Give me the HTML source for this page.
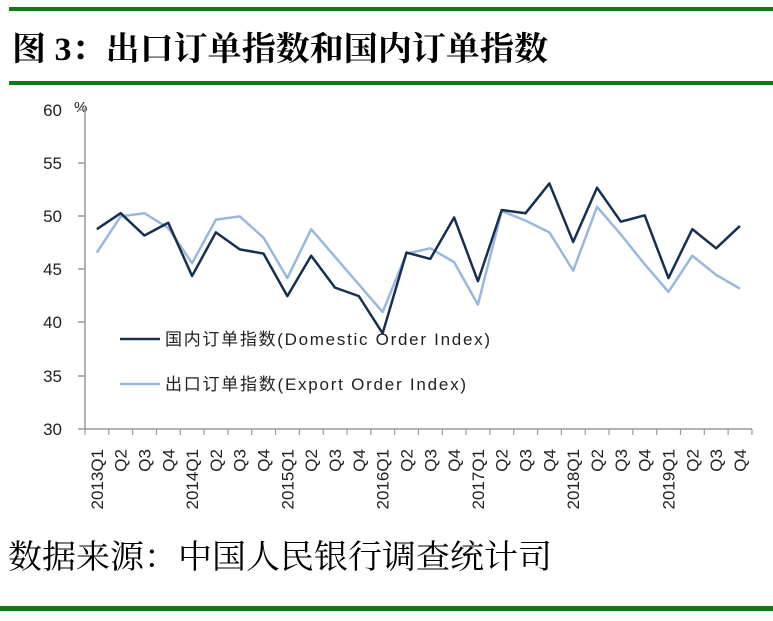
<!DOCTYPE html>
<html><head><meta charset="utf-8"><style>
body{margin:0;background:#fff;}
</style></head><body>
<svg width="773" height="621" xmlns="http://www.w3.org/2000/svg" style="display:block">
<rect width="773" height="621" fill="#fff"/>
<rect x="9" y="7" width="764" height="4" fill="#0c7a17"/>
<rect x="9" y="81" width="764" height="4" fill="#0c7a17"/>
<rect x="0" y="606" width="773" height="5" fill="#0c7a17"/>
<text x="12" y="60" font-family="'Liberation Serif','Noto Serif CJK SC',serif" font-size="33" font-weight="bold" fill="#000" textLength="536" lengthAdjust="spacingAndGlyphs">图 3：出口订单指数和国内订单指数</text>
<text x="8" y="568" font-family="'Liberation Serif','Noto Serif CJK SC',serif" font-size="33" fill="#000" textLength="544" lengthAdjust="spacingAndGlyphs">数据来源：中国人民银行调查统计司</text>
<g font-family="'Liberation Sans',sans-serif" font-size="17" fill="#222" text-anchor="end">
<text x="62" y="116">60</text><text x="62" y="169">55</text><text x="62" y="222">50</text>
<text x="62" y="275">45</text><text x="62" y="328">40</text><text x="62" y="382">35</text><text x="62" y="435">30</text>
</g>
<text x="74" y="112" font-family="'Liberation Sans',sans-serif" font-size="15" fill="#222">%</text>
<g stroke="#999" stroke-width="1.5">
<line x1="85" y1="108" x2="85" y2="429"/>
<line x1="78" y1="429" x2="752" y2="429"/>
<line x1="78" y1="110" x2="85" y2="110"/><line x1="78" y1="163" x2="85" y2="163"/>
<line x1="78" y1="216" x2="85" y2="216"/><line x1="78" y1="269" x2="85" y2="269"/>
<line x1="78" y1="322" x2="85" y2="322"/><line x1="78" y1="376" x2="85" y2="376"/>
</g>
<g id="ticks" stroke="#999" stroke-width="1.2"></g>
<g id="xl" font-family="'Liberation Sans',sans-serif" font-size="17" fill="#222"></g>
<polyline id="exp" fill="none" stroke="#9ab8de" stroke-width="2.5" stroke-linejoin="round"/>
<polyline id="dom" fill="none" stroke="#17304f" stroke-width="2.5" stroke-linejoin="round"/>
<line x1="120" y1="339" x2="160" y2="339" stroke="#17304f" stroke-width="2.5"/>
<text x="165" y="345" font-family="'Liberation Sans','Noto Sans CJK SC',sans-serif" font-size="17" fill="#222" textLength="325" lengthAdjust="spacing">国内订单指数(Domestic  Order Index)</text>
<line x1="120" y1="384" x2="160" y2="384" stroke="#9ab8de" stroke-width="2.5"/>
<text x="165" y="390" font-family="'Liberation Sans','Noto Sans CJK SC',sans-serif" font-size="17" fill="#222" textLength="301" lengthAdjust="spacing">出口订单指数(Export Order Index)</text>
</svg>
<script>
var d=[48.8,50.3,48.2,49.4,44.4,48.5,46.9,46.5,42.5,46.3,43.3,42.5,39.0,46.6,46.0,49.9,43.9,50.6,50.3,53.1,47.6,52.7,49.5,50.1,44.2,48.8,47.0,49.1];
var e=[46.6,50.0,50.3,48.9,45.6,49.7,50.0,48.0,44.2,48.8,46.2,43.6,41.0,46.5,47.0,45.7,41.7,50.5,49.6,48.5,44.9,50.9,48.3,45.5,42.9,46.3,44.5,43.2];
function X(i){return 96.8+i*23.82;}function Y(v){return 429-(v-30)*10.63;}
document.getElementById('dom').setAttribute('points',d.map((v,i)=>X(i)+','+Y(v)).join(' '));
document.getElementById('exp').setAttribute('points',e.map((v,i)=>X(i)+','+Y(v)).join(' '));
var ns='http://www.w3.org/2000/svg',t=document.getElementById('ticks'),xl=document.getElementById('xl');
for(var i=0;i<=28;i++){var l=document.createElementNS(ns,'line');var x=85+i*23.82;l.setAttribute('x1',x);l.setAttribute('x2',x);l.setAttribute('y1',429);l.setAttribute('y2',435);t.appendChild(l);}
for(var i=0;i<28;i++){var q=i%4;var s=q==0?(2013+i/4)+'Q1':'Q'+(q+1);var tx=document.createElementNS(ns,'text');var x=X(i)+6;tx.setAttribute('x',0);tx.setAttribute('y',0);tx.setAttribute('text-anchor','end');tx.setAttribute('transform','translate('+x+',449) rotate(-90)');tx.textContent=s;xl.appendChild(tx);}
</script>
</body></html>
